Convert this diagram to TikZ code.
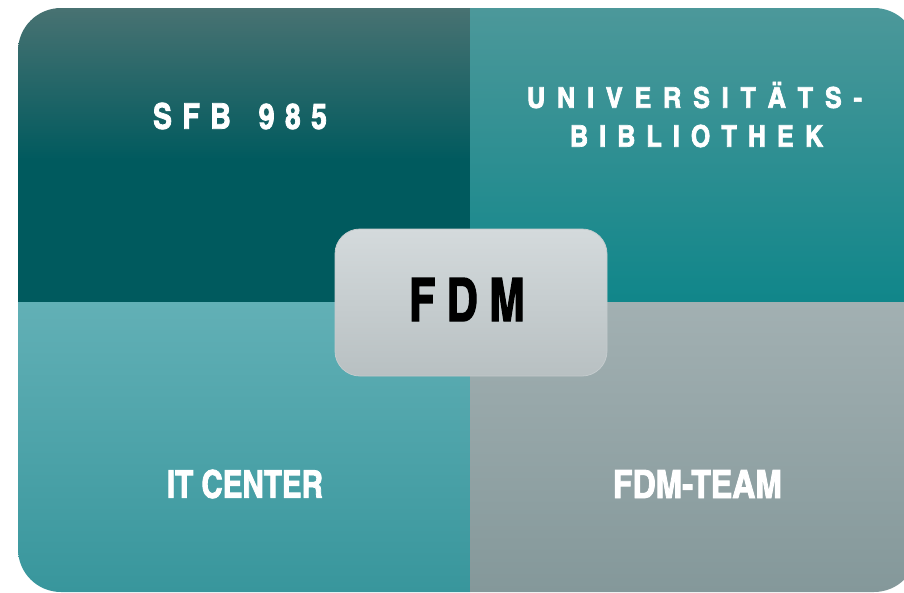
\documentclass[tikz,border=0pt]{standalone}
\usepackage{graphicx}
\usepackage{fontspec}
\newfontfamily\cn[FakeBold=2.2]{texgyreheroscn-bold.otf}
\definecolor{tlA}{RGB}{72,114,114}
\definecolor{tlB}{RGB}{26,100,103}
\definecolor{tlC}{RGB}{0,90,94}
\definecolor{trA}{RGB}{76,152,154}
\definecolor{trB}{RGB}{24,140,144}
\definecolor{trC}{RGB}{16,134,138}
\definecolor{blA}{RGB}{98,176,182}
\definecolor{blB}{RGB}{56,150,156}
\definecolor{brA}{RGB}{162,176,178}
\definecolor{brB}{RGB}{132,152,154}
\definecolor{boxA}{RGB}{212,218,220}
\definecolor{boxB}{RGB}{184,192,194}
\definecolor{boxE}{RGB}{196,203,205}
\newcommand\ta{\kern.38em}
\newcommand\tb{\kern.36em}
\newcommand\tc{\kern.30em}
\newcommand\td{\kern.22em}
\begin{document}
\begin{tikzpicture}[x=1pt,y=-1pt,
  lbl/.style={inner sep=0pt, text=white},
  centerbox/.style={draw=boxE, line width=0.8pt, rounded corners=25pt,
    top color=boxA, bottom color=boxB, minimum width=272pt,
    minimum height=147pt, inner sep=0pt}]
\useasboundingbox (0,0) rectangle (904,592);
\clip (0,0) rectangle (904,592);
\begin{scope}
  \clip[rounded corners=43pt] (18,8) rectangle (917,592);
  \fill[tlC] (18,160) rectangle (470,302);
  \shade[top color=tlA, middle color=tlB, bottom color=tlC] (18,8) rectangle (470,161);
  \shade[top color=trA, middle color=trB, bottom color=trC] (470,8) rectangle (917,302);
  \shade[top color=blA, bottom color=blB] (18,302) rectangle (470,592);
  \shade[top color=brA, bottom color=brB] (470,302) rectangle (917,592);
\end{scope}
\node[lbl] (sfb) at (240,116)
  {\resizebox{174pt}{26pt}{\cn S\tc F\tc B\kern.8em 9\tc 8\tc 5}};
\node[lbl] (uni1) at (694.5,97.5)
  {\resizebox{335pt}{21pt}{\cn U\ta N\ta I\ta V\ta E\ta R\ta S\ta I\ta T\ta \smash{Ä}\ta T\ta S\ta -}};
\node[lbl] (uni2) at (696.5,136)
  {\resizebox{253pt}{22pt}{\cn B\tb I\tb B\tb L\tb I\tb O\tb T\tb H\tb E\tb K}};
\node[lbl] (it) at (245,484)
  {\resizebox{156pt}{28pt}{\cn IT CENTER}};
\node[lbl] (team) at (697.5,484)
  {\resizebox{169pt}{28pt}{\cn FDM-TEAM}};
\node[centerbox] (box) at (471,302.5) {};
\node[inner sep=0pt, text=black] (fdm) at (467,299.5)
  {\resizebox{116pt}{43pt}{\cn F\td D\td M}};
\end{tikzpicture}
\end{document}
